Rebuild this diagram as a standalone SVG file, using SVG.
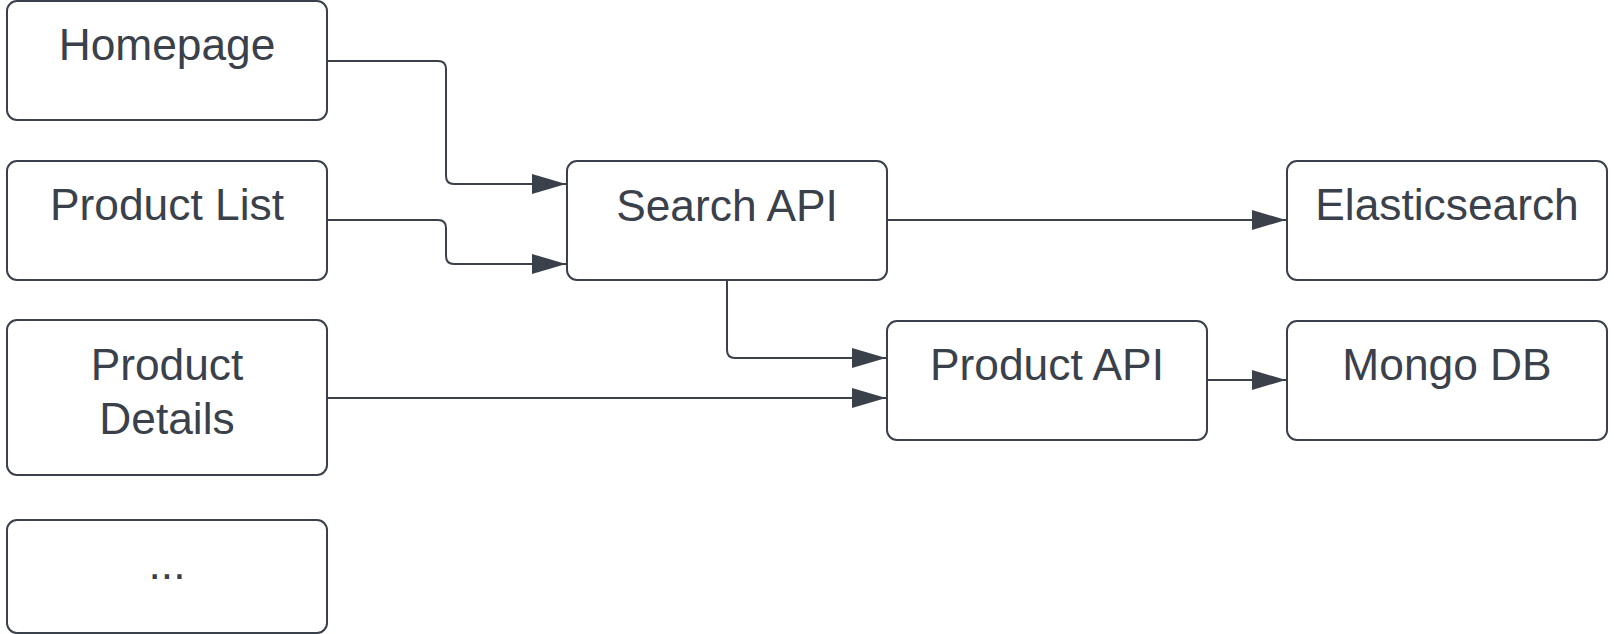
<svg xmlns="http://www.w3.org/2000/svg" width="1614" height="634" viewBox="0 0 1614 634">
<style>
.box{fill:#ffffff;stroke:#3a414a;stroke-width:2}
.lbl{font-family:"Liberation Sans",Arial,sans-serif;font-size:44.3px;fill:#3a414a;text-anchor:middle}
.edge{fill:none;stroke:#3a414a;stroke-width:2;marker-end:url(#arr)}
</style>
<defs>
<marker id="arr" markerUnits="userSpaceOnUse" markerWidth="36" markerHeight="22" refX="34" refY="10" orient="auto">
<path d="M0,0 L34,10 L0,20 Z" fill="#3a414a"/>
</marker>
</defs>
<rect width="1614" height="634" fill="#ffffff"/>
<g id="connectors">
<path class="edge" d="M327,61 H438 Q446,61 446,69 V176 Q446,184 454,184 H566"/>
<path class="edge" d="M327,220 H438 Q446,220 446,228 V256 Q446,264 454,264 H566"/>
<path class="edge" d="M727,280 V350 Q727,358 735,358 H886"/>
<path class="edge" d="M327,398 H886"/>
<path class="edge" d="M887,220 H1286"/>
<path class="edge" d="M1207,380 H1286"/>
</g>
<g id="homepage"><rect class="box" x="7" y="1" width="320" height="119" rx="10"/><text class="lbl" x="167" y="60">Homepage</text></g>
<g id="product-list"><rect class="box" x="7" y="161" width="320" height="119" rx="10"/><text class="lbl" x="167" y="220">Product List</text></g>
<g id="product-details"><rect class="box" x="7" y="320" width="320" height="155" rx="10"/><text class="lbl" x="167" y="380">Product</text><text class="lbl" x="167" y="434">Details</text></g>
<g id="more"><rect class="box" x="7" y="520" width="320" height="113" rx="10"/><text class="lbl" x="167" y="579">...</text></g>
<g id="search-api"><rect class="box" x="567" y="161" width="320" height="119" rx="10"/><text class="lbl" x="727" y="221">Search API</text></g>
<g id="product-api"><rect class="box" x="887" y="321" width="320" height="119" rx="10"/><text class="lbl" x="1047" y="380">Product API</text></g>
<g id="elasticsearch"><rect class="box" x="1287" y="161" width="320" height="119" rx="10"/><text class="lbl" x="1447" y="220">Elasticsearch</text></g>
<g id="mongo-db"><rect class="box" x="1287" y="321" width="320" height="119" rx="10"/><text class="lbl" x="1447" y="380">Mongo DB</text></g>
</svg>
